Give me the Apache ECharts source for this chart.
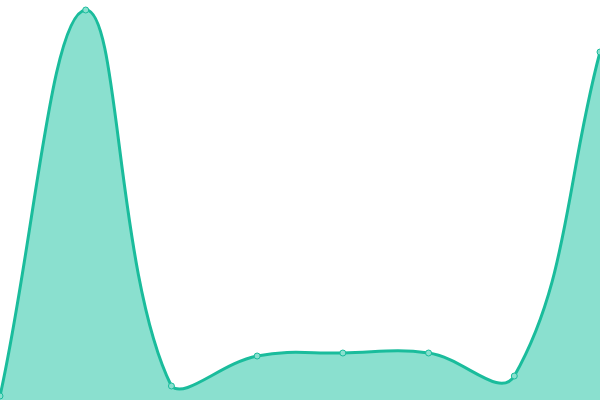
<!DOCTYPE html>
<html><head><meta charset="utf-8">
<script src="https://cdn.jsdelivr.net/npm/echarts@6/dist/echarts.min.js"></script>
<style>html,body{margin:0;padding:0;background:#fff}#c{width:600px;height:400px}</style>
</head><body><div id="c"></div>
<script>
var categories = ['A','B','C','D','E','F','G','H'];
var values = [4, 390, 14, 44, 47, 47, 24, 348];
var tension = 0.4;

function buildPath(api, params) {
  var pts = values.map(function (v, i) { return api.coord([i, v]); });
  var cs = params.coordSys;
  var L = cs.x, R = cs.x + cs.width, T = cs.y, B = cs.y + cs.height;
  function clampX(x) { return Math.max(L, Math.min(R, x)); }
  function clampY(y) { return Math.max(T, Math.min(B, y)); }
  var cps = pts.map(function (p, i) {
    var prev = pts[i - 1] || p, next = pts[i + 1] || p;
    var d01 = Math.hypot(p[0] - prev[0], p[1] - prev[1]);
    var d12 = Math.hypot(next[0] - p[0], next[1] - p[1]);
    var s01 = d01 / (d01 + d12 || 1), s12 = d12 / (d01 + d12 || 1);
    var fa = tension * s01, fb = tension * s12;
    return {
      prev: [clampX(p[0] - fa * (next[0] - prev[0])), clampY(p[1] - fa * (next[1] - prev[1]))],
      next: [clampX(p[0] + fb * (next[0] - prev[0])), clampY(p[1] + fb * (next[1] - prev[1]))]
    };
  });
  var d = 'M' + pts[0][0] + ' ' + pts[0][1];
  for (var i = 1; i < pts.length; i++) {
    d += ' C' + cps[i - 1].next[0] + ' ' + cps[i - 1].next[1] + ' ' +
      cps[i].prev[0] + ' ' + cps[i].prev[1] + ' ' + pts[i][0] + ' ' + pts[i][1];
  }
  return {line: d, first: pts[0], last: pts[pts.length - 1], bottom: B};
}

var chart = echarts.init(document.getElementById('c'));
chart.setOption({
  animation: false,
  grid: {left: 0, right: 0, top: 0, bottom: 0},
  xAxis: {type: 'category', data: categories, boundaryGap: false, show: false},
  yAxis: {type: 'value', min: 0, max: 400, show: false},
  series: [{
    type: 'custom',
    data: [[0, values[0]]],
    renderItem: function (params, api) {
      var r = buildPath(api, params);
      var area = r.line + ' L' + r.last[0] + ' ' + r.bottom + ' L' + r.first[0] + ' ' + r.bottom + ' Z';
      return {
        type: 'group',
        children: [
          {type: 'path', shape: {pathData: area}, style: {fill: '#8ae0cf', stroke: null}},
          {type: 'path', shape: {pathData: r.line}, style: {fill: null, stroke: '#1abc9c', lineWidth: 3}}
        ]
      };
    },
    z: 1
  }, {
    type: 'line',
    data: values,
    symbol: 'circle',
    symbolSize: 6,
    lineStyle: {opacity: 0},
    itemStyle: {color: '#8ae0cf', borderColor: '#1abc9c', borderWidth: 1},
    z: 2
  }]
});
</script></body></html>
